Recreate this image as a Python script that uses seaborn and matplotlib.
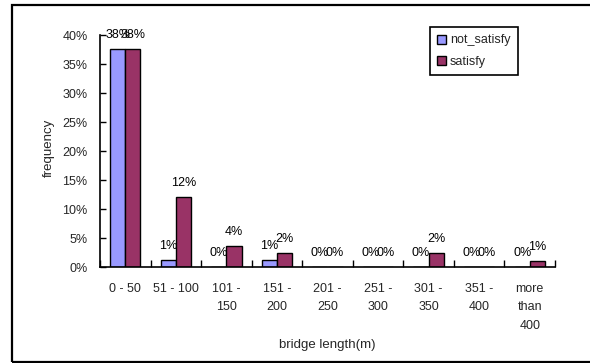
import numpy as np
import pandas as pd
import matplotlib
matplotlib.use("Agg")
import matplotlib.pyplot as plt
from matplotlib.patches import Rectangle
import seaborn as sns

# Bridge length classes and the share of bridges in each class
categories = ["0 - 50", "51 - 100", "101 - 150", "151 - 200", "201 - 250",
              "251 - 300", "301 - 350", "351 - 400", "more than 400"]
tick_labels = ["0 - 50", "51 - 100", "101 -\n150", "151 -\n200", "201 -\n250",
               "251 -\n300", "301 -\n350", "351 -\n400", "more\nthan\n400"]
not_satisfy = [0.376, 0.012, 0.0, 0.012, 0.0, 0.0, 0.0, 0.0, 0.0]
satisfy = [0.376, 0.121, 0.036, 0.024, 0.0, 0.0, 0.024, 0.0, 0.011]
series_names = ["not_satisfy", "satisfy"]
y_ticks = [0.0, 0.05, 0.10, 0.15, 0.20, 0.25, 0.30, 0.35, 0.40]

df = pd.DataFrame({
    "range": categories * 2,
    "frequency": not_satisfy + satisfy,
    "group": [series_names[0]] * len(categories) + [series_names[1]] * len(categories),
})

sns.set_theme(style="white")
plt.rcParams["font.family"] = ["Liberation Sans", "DejaVu Sans"]
plt.rcParams["font.size"] = 9

fig = plt.figure(figsize=(5.9, 3.63), dpi=100)
ax = fig.add_axes([100 / 590, 1 - 267.3 / 363, 455 / 590, (267.3 - 35) / 363])

sns.barplot(data=df, x="range", y="frequency", hue="group", order=categories,
            hue_order=series_names, palette=["#9999FF", "#993366"],
            saturation=1, width=0.6, edgecolor="black", linewidth=1.0,
            errorbar=None, ax=ax)

for container in ax.containers:
    vals = [b.get_height() for b in container]
    ax.bar_label(container, labels=[f"{v:.0%}" for v in vals], padding=6,
                 fontsize=9, color="black")

ax.set_xlim(-0.5, len(categories) - 0.5)
ax.set_ylim(0, 0.40)
ax.set_yticks(y_ticks)
ax.set_yticklabels([f"{t:.0%}" for t in y_ticks])
ax.set_xticks(range(len(categories)))
ax.set_xticklabels(tick_labels, linespacing=1.75)
ax.set_xticks(np.arange(-0.5, len(categories)), minor=True)

ax.tick_params(axis="y", direction="in", length=4, width=1, color="black",
               labelsize=9, pad=9, left=True)
ax.tick_params(axis="x", which="major", length=0, labelsize=9, pad=11)
ax.tick_params(axis="x", which="minor", direction="in", length=5, width=1,
               color="black", bottom=True)

for side in ["top", "right"]:
    ax.spines[side].set_visible(False)
for side in ["left", "bottom"]:
    ax.spines[side].set_color("black")
    ax.spines[side].set_linewidth(1.2)

ax.set_xlabel("bridge length(m)", fontsize=9.5)
ax.xaxis.set_label_coords(0.5, -0.31)
ax.set_ylabel("frequency", fontsize=9.5)
ax.yaxis.set_label_coords(-0.099, 0.514)

leg = ax.legend(loc="upper left", bbox_to_anchor=(430 / 590, 1 - 27 / 363),
                bbox_transform=fig.transFigure, fancybox=False, framealpha=1,
                edgecolor="black", fontsize=9, handlelength=0.7,
                handleheight=0.7, handletextpad=0.3, borderpad=0.6,
                labelspacing=0.75, borderaxespad=0)
leg.get_frame().set_linewidth(1.2)
for h in leg.legend_handles:
    h.set_edgecolor("black")
    h.set_linewidth(1.0)

# chart area border
fig.patches.append(Rectangle((12 / 590, 1 - 362 / 363), 1.2, (362 - 5) / 363,
                             transform=fig.transFigure, fill=False,
                             edgecolor="black", linewidth=1.6, clip_on=False))

fig.savefig("out.png", dpi=100)
